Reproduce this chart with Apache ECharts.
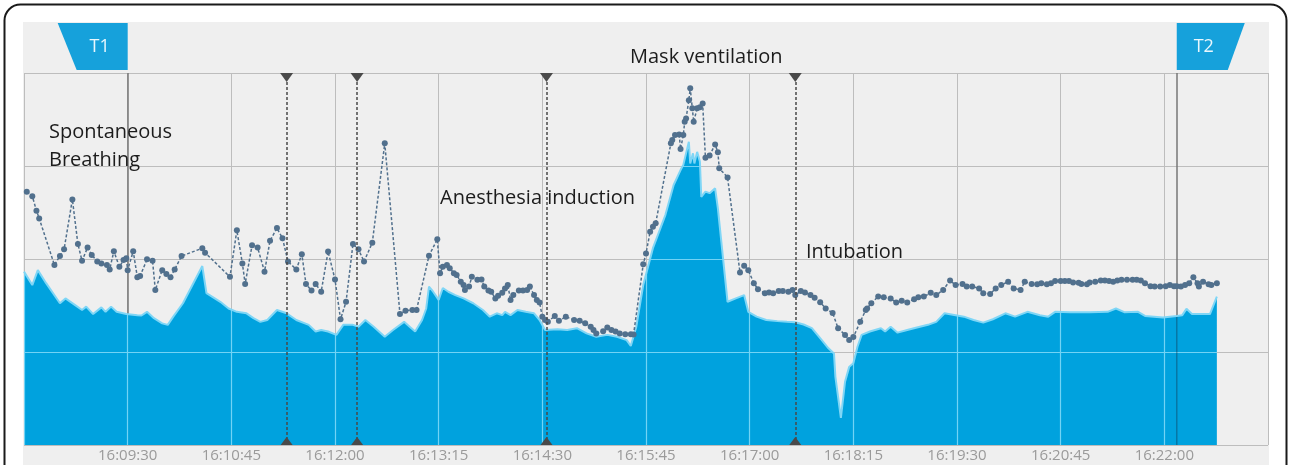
<!DOCTYPE html>
<html>
<head>
<meta charset="utf-8">
<script src="https://cdn.jsdelivr.net/npm/echarts@6/dist/echarts.min.js"></script>
<style>
  html, body { margin: 0; padding: 0; background: #fff; }
  #chart { width: 1290px; height: 465px; }
</style>
</head>
<body>
<div id="chart"></div>
<script>
// x = seconds after 16:08:15, y = monitor index (0-100)
const START_SEC = 16 * 3600 + 8 * 60 + 15
const X_MAX = 900
const TICK_STEP = 75
const T1_SEC = 75
const T2_SEC = 834
const eventTimes = [190, 241, 378, 558]

// filled (blue) signal
const areaData = [
  [0, 46.6], [6, 43.0], [10, 47.0], [16, 43.5], [26, 38.1], [30, 39.4], [37, 37.6], [42, 36.3],
  [45, 37.2], [50, 35.2], [56, 37.0], [59, 35.8], [63, 37.2], [67, 35.8], [74, 35.2], [82, 34.9],
  [85, 34.8], [89, 35.8], [94, 34.1], [100, 32.7], [104, 32.3], [108, 34.5], [115, 38.1], [129, 48.1],
  [132, 40.8], [142, 38.5], [148, 36.7], [154, 35.8], [161, 35.4], [166, 34.1], [171, 33.1], [176, 33.6],
  [183, 36.3], [190, 35.4], [197, 33.6], [206, 32.3], [211, 30.5], [215, 30.9], [220, 30.5], [226, 29.6],
  [231, 32.3], [238, 32.3], [242, 31.8], [247, 33.6], [253, 31.8], [261, 29.1], [267, 30.9], [275, 33.1],
  [279, 31.8], [283, 30.5], [288, 33.6], [291, 36.7], [293, 42.6], [296, 41.2], [300, 39.0], [303, 42.2],
  [307, 41.2], [312, 40.3], [318, 39.4], [325, 38.1], [332, 36.3], [337, 34.5], [342, 35.4], [346, 34.9],
  [348, 35.8], [352, 34.9], [357, 36.3], [363, 35.8], [369, 35.4], [373, 33.6], [377, 30.9], [386, 31.1],
  [393, 30.9], [400, 31.4], [407, 30.0], [414, 29.1], [422, 29.6], [429, 29.1], [436, 28.2], [439, 26.6],
  [443, 31.8], [448, 43.0], [455, 52.9], [464, 61.8], [470, 69.9], [475, 73.9], [477, 75.3], [478, 75.3],
  [481, 81.5], [482, 75.7], [484, 78.4], [485, 75.7], [487, 78.8], [489, 76.2], [490, 66.7], [493, 68.1],
  [496, 67.7], [500, 69.0], [502, 63.6], [509, 38.5], [515, 39.4], [521, 40.3], [524, 35.8], [530, 34.5],
  [537, 33.6], [545, 33.3], [552, 33.1], [558, 33.0], [564, 32.4], [570, 31.4], [576, 28.7], [582, 26.0],
  [586, 24.6], [587, 18.4], [591, 7.3], [594, 17.0], [597, 21.0], [600, 22.0], [603, 26.4], [606, 29.6],
  [612, 30.5], [620, 31.4], [623, 30.5], [627, 31.8], [632, 30.2], [639, 30.9], [646, 31.6], [654, 32.3],
  [660, 33.1], [666, 35.4], [674, 34.9], [680, 34.5], [687, 33.6], [694, 32.9], [701, 33.8], [710, 35.4],
  [717, 34.5], [726, 35.8], [735, 34.9], [741, 34.5], [746, 35.8], [757, 35.7], [771, 35.7], [784, 35.8],
  [790, 36.7], [796, 35.7], [806, 35.8], [811, 34.7], [824, 34.3], [834, 34.7], [838, 34.9], [841, 36.6],
  [845, 35.2], [858, 35.2], [863, 39.9]
]

// dotted signal
const dotData = [
  [2, 68.1], [6, 66.9], [9, 63.0], [11, 60.9], [22, 48.4], [26, 50.8], [29, 52.6], [35, 66.0],
  [39, 54.0], [42, 49.5], [46, 53.1], [49, 51.1], [53, 49.3], [56, 48.8], [60, 48.4], [62, 47.2],
  [65, 52.1], [69, 47.9], [72, 49.7], [74, 50.2], [75, 47.0], [79, 52.1], [82, 45.1], [84, 45.4],
  [89, 49.9], [93, 49.5], [95, 41.7], [100, 47.0], [103, 46.0], [106, 45.1], [109, 47.2], [114, 50.8],
  [129, 52.9], [131, 51.7], [149, 45.2], [154, 57.7], [158, 48.8], [160, 43.3], [165, 53.7], [169, 53.1],
  [174, 46.6], [178, 54.9], [183, 58.3], [187, 55.6], [191, 49.3], [197, 47.2], [201, 51.3], [204, 43.3],
  [208, 41.5], [211, 43.3], [215, 41.2], [220, 52.0], [225, 44.5], [229, 33.8], [233, 38.5], [238, 54.0],
  [242, 52.6], [246, 49.3], [252, 54.4], [261, 81.1], [272, 35.2], [276, 36.1], [281, 36.3], [284, 36.3],
  [293, 50.9], [299, 55.3], [301, 46.2], [303, 47.9], [306, 48.4], [308, 47.5], [311, 46.2], [313, 45.7],
  [316, 43.9], [318, 43.0], [319, 41.7], [322, 42.6], [324, 45.2], [328, 44.4], [331, 44.5], [333, 42.6],
  [336, 41.5], [338, 41.2], [341, 39.4], [343, 40.1], [346, 40.9], [348, 42.1], [350, 43.0], [352, 39.0],
  [354, 40.3], [358, 41.5], [361, 41.5], [364, 41.7], [366, 42.6], [369, 40.3], [371, 39.0], [373, 38.3],
  [375, 34.5], [377, 33.6], [379, 33.1], [384, 34.7], [387, 33.4], [392, 34.5], [398, 33.6], [402, 33.4],
  [406, 32.7], [410, 31.8], [412, 30.9], [414, 30.0], [419, 30.6], [422, 31.6], [425, 30.9], [428, 30.5],
  [431, 30.0], [435, 29.8], [439, 29.8], [441, 29.7], [448, 48.6], [450, 51.5], [453, 57.3], [455, 58.7],
  [457, 59.6], [468, 81.1], [469, 82.0], [471, 83.3], [474, 83.5], [475, 79.6], [477, 83.3], [478, 86.9],
  [479, 87.8], [481, 92.7], [482, 95.9], [483.5, 90.5], [484.5, 86.9], [487, 90.5], [489, 90.8], [491, 91.8],
  [493, 77.2], [496, 77.8], [500, 80.8], [502, 78.7], [503, 74.4], [509, 71.9], [518, 46.4], [521, 48.2],
  [524, 47.0], [528, 43.5], [531, 41.9], [536, 40.8], [539, 41.0], [542, 40.8], [546, 41.4], [549, 41.4],
  [553, 41.2], [556, 41.7], [558, 40.3], [562, 41.4], [565, 41.0], [569, 40.3], [572, 39.6], [576, 38.4],
  [580, 36.7], [585, 35.5], [589, 31.4], [594, 29.6], [597, 28.2], [600, 29.0], [605, 33.1], [609, 36.3],
  [610, 36.7], [613, 38.1], [618, 39.9], [622, 39.7], [627, 39.4], [631, 38.3], [635, 38.8], [639, 38.3],
  [644, 39.2], [647, 39.7], [651, 39.9], [656, 40.9], [660, 40.3], [665, 41.7], [670, 44.2], [674, 43.0],
  [679, 43.3], [682, 42.6], [686, 42.6], [691, 42.1], [694, 40.8], [699, 40.6], [703, 42.1], [707, 43.0],
  [712, 43.9], [716, 42.1], [721, 41.7], [724, 43.9], [729, 43.3], [733, 43.2], [736, 43.5], [740, 43.2],
  [743, 43.5], [746, 44.1], [750, 44.1], [753, 44.1], [756, 44.1], [759, 43.7], [763, 43.6], [765, 43.3],
  [769, 43.2], [771, 43.7], [775, 43.9], [779, 44.2], [782, 44.2], [785, 44.1], [788, 43.9], [791, 44.2],
  [794, 44.4], [798, 44.4], [802, 44.4], [805, 44.4], [808, 44.2], [811, 43.5], [815, 42.7], [818, 42.6],
  [822, 42.6], [826, 42.7], [829, 43.0], [832, 42.7], [834, 42.7], [837, 42.6], [840, 43.0], [843, 43.5],
  [846, 45.1], [849, 43.5], [850, 42.6], [853, 43.9], [857, 43.2], [859, 43.0], [863, 43.5]
]

const AREA_BLUE = '#00a2de'
const GRID_GREY = '#bdbdbd'
const DOT_COLOR = '#51708d'
const MARK_COLOR = '#4a4a4a'
const FONT = '"Open Sans", "Noto Sans", sans-serif'

function clock(sec) {
  const s = START_SEC + sec
  const pad = n => String(n).padStart(2, '0')
  return pad(Math.floor(s / 3600)) + ':' + pad(Math.floor(s / 60) % 60) + ':' + pad(s % 60)
}

// same rounding ECharts uses for 1px lines
function crisp(p) {
  const d = Math.round(p * 2)
  return (d + 1) % 2 === 0 ? d / 2 : (d + 1) / 2
}

const chart = echarts.init(document.getElementById('chart'), null, { renderer: 'canvas' })

chart.setOption({
  animation: false,
  grid: { left: 24, right: 22, top: 73, bottom: 20 },
  xAxis: {
    type: 'value', min: 0, max: X_MAX, interval: TICK_STEP,
    axisLine: { show: false }, axisTick: { show: false },
    axisLabel: {
      color: '#9a9a9a', fontSize: 15, fontFamily: FONT, margin: 3,
      showMinLabel: false, showMaxLabel: false,
      formatter: v => clock(v)
    },
    splitLine: { show: true, lineStyle: { color: GRID_GREY, width: 1 } }
  },
  yAxis: {
    type: 'value', min: 0, max: 100, interval: 25,
    axisLine: { show: false }, axisTick: { show: false }, axisLabel: { show: false },
    splitLine: { show: true, lineStyle: { color: GRID_GREY, width: 1 } }
  },
  series: [
    {
      name: 'T lines', type: 'line', data: [],
      markLine: {
        silent: true, z: 1, symbol: ['none', 'none'], label: { show: false },
        lineStyle: { color: '#777', width: 1.5, type: 'solid' },
        data: [{ xAxis: T1_SEC }, { xAxis: T2_SEC }]
      }
    },
    {
      name: 'area', type: 'line', z: 2, data: areaData,
      showSymbol: false, silent: true,
      lineStyle: { color: '#7fd6f6', width: 2 },
      areaStyle: { color: AREA_BLUE, opacity: 1 }
    },
    {
      name: 'dots', type: 'line', z: 6, data: dotData,
      symbol: 'circle', symbolSize: 6, showSymbol: true, silent: true,
      lineStyle: { color: DOT_COLOR, width: 1.5, type: [3, 2] },
      itemStyle: { color: DOT_COLOR },
      markLine: {
        silent: true, z: 7, symbol: ['none', 'none'], label: { show: false },
        lineStyle: { color: MARK_COLOR, width: 1.5, type: [3, 2] },
        data: eventTimes.map(t => ({ xAxis: t }))
      },
      markPoint: {
        silent: true, z: 8, label: { show: false },
        itemStyle: { color: MARK_COLOR },
        data: eventTimes.map(t => ({
          coord: [t, 100], symbol: 'triangle', symbolRotate: 180, symbolSize: [13, 9], symbolOffset: [0, 4.5]
        })).concat(eventTimes.map(t => ({
          coord: [t, 0], symbol: 'triangle', symbolSize: [12, 8], symbolOffset: [0, -4]
        })))
      }
    }
  ]
})

const toPx = p => chart.convertToPixel({ gridIndex: 0 }, p)

// blue fill with the light grid lines that show through it
function areaPattern() {
  const cv = document.createElement('canvas')
  cv.width = 1290
  cv.height = 465
  const ctx = cv.getContext('2d')
  ctx.fillStyle = AREA_BLUE
  ctx.fillRect(0, 0, cv.width, cv.height)
  const [xl, yt] = toPx([0, 100])
  const [xr, yb] = toPx([X_MAX, 0])
  ctx.strokeStyle = '#72d3f5'
  ctx.lineWidth = 1.2
  ctx.beginPath()
  for (let t = 0; t <= X_MAX; t += TICK_STEP) {
    const x = crisp(toPx([t, 0])[0])
    ctx.moveTo(x, yt); ctx.lineTo(x, yb)
  }
  for (let v = 0; v <= 100; v += 25) {
    const y = crisp(toPx([0, v])[1])
    ctx.moveTo(xl, y); ctx.lineTo(xr, y)
  }
  ctx.stroke()
  const x2 = toPx([T2_SEC, 0])[0]
  ctx.strokeStyle = 'rgba(20,40,60,0.35)'
  ctx.lineWidth = 1.5
  ctx.beginPath()
  ctx.moveTo(x2, yt); ctx.lineTo(x2, yb)
  ctx.stroke()
  return cv
}

const t1x = toPx([T1_SEC, 0])[0]
const t2x = toPx([T2_SEC, 0])[0]
const noteStyle = { font: '20px ' + FONT, fill: '#1c1c1c', textVerticalAlign: 'middle', verticalAlign: 'middle' }
const flagText = { font: '18px ' + FONT, fill: '#e9f7fd', textAlign: 'center', align: 'center', textVerticalAlign: 'middle', verticalAlign: 'middle' }

chart.setOption({
  series: [{}, { areaStyle: { color: { image: areaPattern(), repeat: 'no-repeat' } } }, {}],
  graphic: {
    elements: [
      { type: 'rect', z: -10, silent: true, shape: { x: 4.5, y: 4.5, width: 1282, height: 520, r: 16 }, style: { fill: '#fff', stroke: '#1a1a1a', lineWidth: 2 } },
      { type: 'rect', z: -9, silent: true, shape: { x: 23, y: 22, width: 1246, height: 450 }, style: { fill: '#efefef' } },
      { type: 'polygon', z: 20, silent: true, shape: { points: [[t1x - 70, 23], [t1x, 23], [t1x, 70], [t1x - 51, 70]] }, style: { fill: '#16a1db' } },
      { type: 'text', z: 21, silent: true, x: t1x - 28, y: 47, style: Object.assign({ text: 'T1' }, flagText) },
      { type: 'polygon', z: 20, silent: true, shape: { points: [[t2x, 23], [t2x + 68, 23], [t2x + 51, 70], [t2x, 70]] }, style: { fill: '#16a1db' } },
      { type: 'text', z: 21, silent: true, x: t2x + 27, y: 47, style: Object.assign({ text: 'T2' }, flagText) },
      { type: 'text', z: 21, silent: true, x: 49, y: 132, style: Object.assign({ text: 'Spontaneous' }, noteStyle) },
      { type: 'text', z: 21, silent: true, x: 49, y: 160, style: Object.assign({ text: 'Breathing' }, noteStyle) },
      { type: 'text', z: 21, silent: true, x: 630, y: 57, style: Object.assign({ text: 'Mask ventilation' }, noteStyle) },
      { type: 'text', z: 21, silent: true, x: 440, y: 198, style: Object.assign({ text: 'Anesthesia induction' }, noteStyle) },
      { type: 'text', z: 21, silent: true, x: 806, y: 252, style: Object.assign({ text: 'Intubation' }, noteStyle) }
    ]
  }
})
</script>
</body>
</html>
